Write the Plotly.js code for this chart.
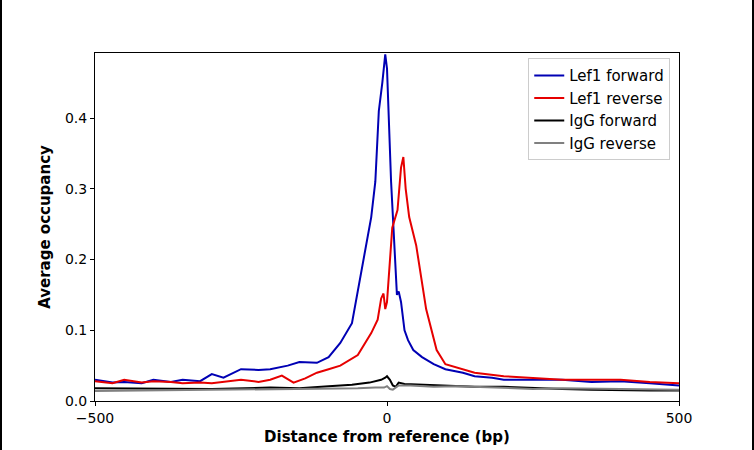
<!DOCTYPE html>
<html>
<head>
<script src="https://cdn.plot.ly/plotly-3.0.1.min.js"></script>
<style>
body { margin: 0; }
#graphDiv { width: 750px; height: 450px; border-left: 2px solid #000; border-right: 2px solid #000; }
</style>
</head>
<body>
<div id="graphDiv"></div>
<script>
const graphDiv = document.getElementById('graphDiv');

// data **************************************************************
const fwdX = [-500,-470,-450,-420,-400,-370,-350,-320,-300,-280,-250,-220,-200,-170,-150,-120,-100,-80,-60,-45,-27,-20,-14,-8,-3,0,3,7,12,17,20,24,30,36,45,60,80,100,130,150,180,200,250,300,350,400,450,500];
const fwdY = [0.030,0.026,0.027,0.025,0.030,0.027,0.030,0.028,0.038,0.033,0.045,0.044,0.045,0.050,0.055,0.054,0.062,0.082,0.110,0.180,0.260,0.310,0.410,0.450,0.490,0.470,0.390,0.310,0.230,0.150,0.155,0.140,0.100,0.086,0.072,0.062,0.052,0.045,0.040,0.035,0.033,0.030,0.030,0.030,0.027,0.028,0.025,0.022];

const revX = [-500,-470,-450,-420,-400,-370,-350,-320,-300,-270,-250,-220,-200,-180,-160,-140,-120,-100,-80,-50,-27,-16,-10,-6,-3,0,5,9,18,24,28,32,38,50,67,85,100,130,150,200,250,300,350,400,450,500];
const revY = [0.028,0.025,0.030,0.026,0.028,0.027,0.025,0.026,0.025,0.028,0.030,0.027,0.030,0.036,0.026,0.032,0.040,0.045,0.050,0.065,0.096,0.115,0.145,0.152,0.130,0.140,0.200,0.245,0.270,0.330,0.345,0.300,0.260,0.220,0.130,0.072,0.052,0.045,0.040,0.035,0.033,0.030,0.030,0.030,0.027,0.025];

const igfX = [-500,-400,-300,-200,-150,-100,-60,-30,-10,-3,0,5,10,15,20,30,60,100,150,200,250,300,350,400,450,500];
const igfY = [0.018,0.017,0.017,0.019,0.018,0.021,0.023,0.026,0.030,0.033,0.035,0.030,0.022,0.020,0.026,0.024,0.023,0.022,0.020,0.020,0.018,0.017,0.016,0.015,0.015,0.015];

const igrX = [-500,-400,-300,-200,-100,-50,-20,-5,0,5,10,15,20,40,80,120,200,250,300,400,500];
const igrY = [0.014,0.015,0.015,0.016,0.017,0.018,0.019,0.019,0.021,0.017,0.016,0.019,0.022,0.022,0.020,0.021,0.019,0.017,0.018,0.017,0.016];

function trace(name, x, y, color){
  return { name: name, x: x, y: y, mode: 'lines', line: { color: color, width: 2 } };
}

const axisStyle = {
  showline: true, mirror: true, linecolor: '#000', linewidth: 1,
  ticks: 'outside', ticklen: 4, tickcolor: '#000',
  showgrid: false, zeroline: false,
  tickfont: { size: 14, color: '#000' }
};

Plotly.newPlot(graphDiv, [
  trace('Lef1 forward', fwdX, fwdY, '#0000b4'),
  trace('Lef1 reverse', revX, revY, '#e60000'),
  trace('IgG forward', igfX, igfY, '#000000'),
  trace('IgG reverse', igrX, igrY, '#808080')
], {
  width: 750, height: 450,
  margin: { l: 93, r: 73, t: 53, b: 49 },
  font: { family: 'DejaVu Sans', color: '#000' },
  plot_bgcolor: '#fff', paper_bgcolor: '#fff',
  xaxis: Object.assign({}, axisStyle, {
    range: [-500, 500], tickvals: [-500, 0, 500], ticktext: ['\u2212500', '0', '500'],
    title: { text: '<b>Distance from reference (bp)</b>', font: { size: 15 }, standoff: 6 }
  }),
  yaxis: Object.assign({}, axisStyle, {
    range: [0, 0.492], tickvals: [0, 0.1, 0.2, 0.3, 0.4], ticktext: ['0.0', '0.1', '0.2', '0.3', '0.4'],
    title: { text: '<b>Average occupancy</b>', font: { size: 15 }, standoff: 10 }
  }),
  legend: {
    x: 0.985, y: 0.985, xanchor: 'right', yanchor: 'top',
    bordercolor: '#ccc', borderwidth: 1, bgcolor: 'rgba(255,255,255,0.8)',
    font: { size: 15 }, tracegroupgap: 4
  },
  showlegend: true
}, { displayModeBar: false });
</script>
</body>
</html>
